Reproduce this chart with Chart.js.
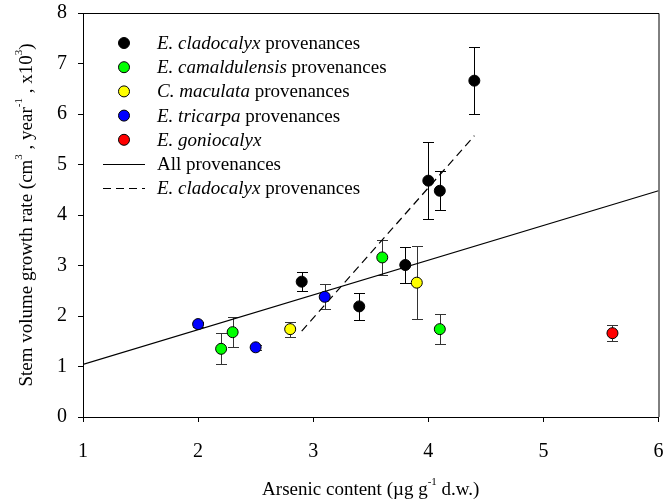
<!DOCTYPE html>
<html>
<head>
<meta charset="utf-8">
<script src="https://cdn.jsdelivr.net/npm/chart.js@4"></script>
<style>
  body { margin: 0; background: #fff; }
  #wrap { width: 665px; height: 503px; }
</style>
</head>
<body>
<div id="wrap"><canvas id="chartCanvas" width="665" height="503"></canvas></div>
<script>
// values
const cladX = [2.9, 3.4, 3.8, 4.0, 4.1, 4.4];
const cladY = [2.68, 2.19, 3.01, 4.68, 4.48, 6.66];
const cladErr = [0.19, 0.27, 0.35, 0.76, 0.39, 0.66];

const camaX = [2.2, 2.3, 3.6, 4.1];
const camaY = [1.35, 1.68, 3.16, 1.74];
const camaErr = [0.31, 0.30, 0.35, 0.30];

const macuX = [2.8, 3.9];
const macuY = [1.74, 2.66];
const macuErr = [0.15, 0.72];

const tricX = [2.0, 2.5, 3.1];
const tricY = [1.84, 1.38, 2.38];
const tricErr = [0.05, 0.05, 0.25];

const gonioX = [5.6];
const gonioY = [1.66];
const gonioErr = [0.16];

// regression lines
const allFitX = [1, 6];
const allFitY = [1.04, 4.48];
const cladFitX = [2.9, 4.4];
const cladFitY = [1.70, 5.57];

const xTicks = [1, 2, 3, 4, 5, 6];
const yTicks = [0, 1, 2, 3, 4, 5, 6, 7, 8];

const FONT = '"Liberation Serif", "Times New Roman", serif';

function pts(xs, ys) {
    return xs.map((x, i) => ({ x: x, y: ys[i] }));
}

function scatterSet(label, xs, ys, errs, color, barColor) {
    return {
        label: label,
        data: pts(xs, ys),
        errors: errs,
        barColor: barColor,
        backgroundColor: color,
        borderColor: '#000',
        borderWidth: 1,
        pointRadius: 5.5,
        pointHoverRadius: 5.5,
        showLine: false,
        order: 0
    };
}

// legend rows: [italic part, regular part, kind, colour]
const legendRows = [
    ['E. cladocalyx', ' provenances', 'dot', '#000000'],
    ['E. camaldulensis', ' provenances', 'dot', '#00ff00'],
    ['C. maculata', ' provenances', 'dot', '#ffff00'],
    ['E. tricarpa', ' provenances', 'dot', '#0000ff'],
    ['E. goniocalyx', '', 'dot', '#ff0000'],
    ['', 'All provenances', 'solid', '#000'],
    ['E. cladocalyx', ' provenances', 'dash', '#000']
];

// draw a run of text pieces, some italic, some superscript
function drawRich(ctx, parts, x, y, size, align) {
    let total = 0;
    parts.forEach(p => {
        ctx.font = `${p.it ? 'italic ' : ''}${p.sup ? Math.round(size * 0.6) : size}px ${FONT}`;
        p.w = ctx.measureText(p.t).width;
        total += p.w;
    });
    let cx = align === 'center' ? x - total / 2 : x;
    parts.forEach(p => {
        ctx.font = `${p.it ? 'italic ' : ''}${p.sup ? Math.round(size * 0.6) : size}px ${FONT}`;
        ctx.fillText(p.t, cx, p.sup ? y - size * 0.42 : y);
        cx += p.w;
    });
}

const extrasPlugin = {
    id: 'extras',
    beforeDatasetsDraw: function(chart) {
        const ctx = chart.ctx;
        const xs = chart.scales.x, ys = chart.scales.y;
        ctx.save();
        ctx.lineWidth = 1;
        chart.data.datasets.forEach(ds => {
            if (!ds.errors) return;
            ctx.strokeStyle = ds.barColor;
            ds.data.forEach((p, i) => {
                const px = Math.round(xs.getPixelForValue(p.x)) + 0.5;
                const top = Math.round(ys.getPixelForValue(p.y + ds.errors[i])) + 0.5;
                const bot = Math.round(ys.getPixelForValue(p.y - ds.errors[i])) + 0.5;
                ctx.beginPath();
                ctx.moveTo(px, top); ctx.lineTo(px, bot);
                ctx.moveTo(px - 5.5, top); ctx.lineTo(px + 5.5, top);
                ctx.moveTo(px - 5.5, bot); ctx.lineTo(px + 5.5, bot);
                ctx.stroke();
            });
        });
        ctx.restore();
    },
    afterDraw: function(chart) {
        const ctx = chart.ctx;
        const a = chart.chartArea;
        ctx.save();
        // frame on top and right
        ctx.strokeStyle = '#000';
        ctx.lineWidth = 1;
        ctx.beginPath();
        ctx.moveTo(a.left, a.top + 0.5); ctx.lineTo(a.right + 0.5, a.top + 0.5);
        ctx.lineTo(a.right + 0.5, a.bottom);
        ctx.stroke();

        // legend
        ctx.fillStyle = '#000';
        ctx.textBaseline = 'middle';
        legendRows.forEach((r, i) => {
            const y = 43 + i * 24.2;
            if (r[2] === 'dot') {
                ctx.beginPath();
                ctx.arc(124, y, 5.5, 0, Math.PI * 2);
                ctx.fillStyle = r[3];
                ctx.fill();
                ctx.strokeStyle = '#000';
                ctx.stroke();
            } else {
                ctx.beginPath();
                ctx.setLineDash(r[2] === 'dash' ? [8, 5] : []);
                ctx.strokeStyle = '#000';
                ctx.moveTo(103, Math.round(y) + 0.5);
                ctx.lineTo(145, Math.round(y) + 0.5);
                ctx.stroke();
                ctx.setLineDash([]);
            }
            ctx.fillStyle = '#000';
            ctx.textAlign = 'left';
            const parts = [];
            if (r[0]) parts.push({ t: r[0], it: true });
            if (r[1]) parts.push({ t: r[1] });
            drawRich(ctx, parts, 157, y + 1, 19, 'left');
        });

        // axis titles
        ctx.textAlign = 'left';
        ctx.textBaseline = 'middle';
        drawRich(ctx, [
            { t: 'Arsenic content (µg g' }, { t: '-1', sup: true }, { t: ' d.w.)' }
        ], (a.left + a.right) / 2, 490, 19, 'center');

        ctx.translate(27, (a.top + a.bottom) / 2);
        ctx.rotate(-Math.PI / 2);
        drawRich(ctx, [
            { t: 'Stem volume growth rate (cm' }, { t: '3', sup: true },
            { t: ' , year' }, { t: '-1', sup: true },
            { t: ' , x10' }, { t: '3', sup: true }, { t: ')' }
        ], 0, 0, 19, 'center');
        ctx.restore();
    }
};

new Chart(document.getElementById('chartCanvas'), {
    type: 'scatter',
    data: {
        datasets: [
            scatterSet('E. cladocalyx provenances', cladX, cladY, cladErr, '#000000', '#000'),
            scatterSet('E. camaldulensis provenances', camaX, camaY, camaErr, '#00ff00', '#333'),
            scatterSet('C. maculata provenances', macuX, macuY, macuErr, '#ffff00', '#333'),
            scatterSet('E. tricarpa provenances', tricX, tricY, tricErr, '#0000ff', '#333'),
            scatterSet('E. goniocalyx', gonioX, gonioY, gonioErr, '#ff0000', '#333'),
            {
                label: 'All provenances',
                data: pts(allFitX, allFitY),
                showLine: true,
                borderColor: '#000',
                borderWidth: 1.2,
                pointRadius: 0,
                order: 1
            },
            {
                label: 'E. cladocalyx provenances (fit)',
                data: pts(cladFitX, cladFitY),
                showLine: true,
                borderColor: '#000',
                borderWidth: 1.2,
                borderDash: [8, 5],
                pointRadius: 0,
                order: 1
            }
        ]
    },
    options: {
        responsive: false,
        animation: false,
        layout: { padding: { left: 0, top: 13, right: 4, bottom: 0 } },
        plugins: {
            legend: { display: false },
            tooltip: { enabled: false }
        },
        scales: {
            x: {
                type: 'linear',
                min: 1,
                max: 6,
                afterBuildTicks: s => { s.ticks = xTicks.map(v => ({ value: v })); },
                afterFit: s => { s.height = 86; s.paddingLeft = 0; s.paddingRight = 0; },
                grid: { drawOnChartArea: false, drawTicks: true, tickLength: 5, color: '#000' },
                border: { color: '#000', width: 1 },
                ticks: { color: '#000', padding: 18, maxRotation: 0, font: { family: FONT, size: 20 } }
            },
            y: {
                type: 'linear',
                min: 0,
                max: 8,
                afterBuildTicks: s => { s.ticks = yTicks.map(v => ({ value: v })); },
                afterFit: s => { s.width = 83; s.paddingTop = 0; s.paddingBottom = 0; },
                grid: { drawOnChartArea: false, drawTicks: true, tickLength: 5, color: '#000' },
                border: { color: '#000', width: 1 },
                ticks: { color: '#000', padding: 11, font: { family: FONT, size: 20 } }
            }
        }
    },
    plugins: [extrasPlugin]
});
</script>
</body>
</html>
